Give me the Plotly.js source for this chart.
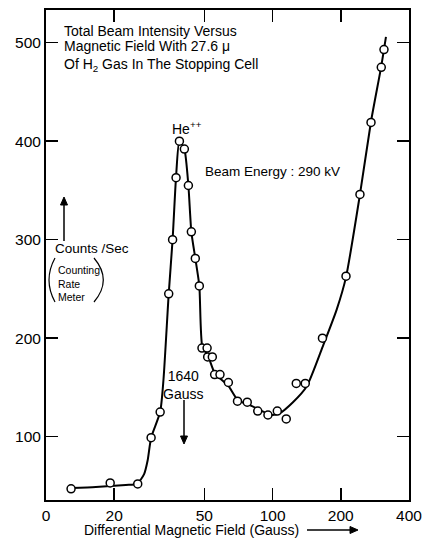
<!DOCTYPE html>
<html>
<head>
<meta charset="utf-8">
<script src="https://cdn.plot.ly/plotly-3.0.1.min.js"></script>
<style>html,body{margin:0;padding:0;background:#fff;}#chart{width:425px;height:539px;}</style>
</head>
<body>
<div id="chart"></div>
<script>
// Measured points (differential magnetic field in gauss, counts/sec)
const fieldGauss = [12.9, 19.2, 25.4, 29.1, 31.9, 34.8, 36.2, 37.5, 38.8, 40.8, 42.5, 43.8, 45.6, 47.5, 48.8, 51.4, 51.7, 54.2, 55.5, 58.6, 63.8, 70.0, 77.3, 86.0, 95.4, 104.9, 114.9, 127.2, 139.4, 166, 210.9, 243.0, 271.9, 301.8, 310.2];
const counts     = [47, 53, 52, 99, 125, 245, 300, 363, 400, 392, 355, 308, 281, 253, 190, 190, 181, 181, 163, 163, 155, 136, 135, 126, 122, 126, 118, 154, 154, 200, 263, 346, 419, 475, 493];

// Hand-drawn fitted curve
const curveField  = [12.9, 16.6, 22.5, 25.2, 27.1, 28.1, 29.1, 31.9, 33.0, 34.8, 36.2, 37.5, 38.8, 40.8, 42.5, 43.8, 45.6, 47.5, 49.0, 51.9, 55.7, 63.6, 70.3, 79.5, 89.8, 99.4, 107.8, 123.0, 141.4, 167.4, 191.8, 210.9, 243.0, 271.9, 301.1, 316.5];
const curveCounts = [48, 49, 51, 52, 62, 76, 99, 125, 158, 245, 300, 364, 400, 392, 355, 308, 281, 253, 191, 182, 164, 152, 137, 132, 126, 122, 124, 135, 151, 193, 229, 262, 346, 420, 475, 506];

// Axis ticks
const xTickVals = [10, 20, 50, 100, 200, 400];
const xTickText = ["0", "20", "50", "100", "200", "400"];
const yTickVals = [100, 200, 300, 400, 500];
const yTickText = ["100", "200", "300", "400", "500"];

// Title lines (drawn inside the frame, top left)
const titleLines = ["Total Beam Intensity Versus", "Magnetic Field With 27.6 μ", "Of H<sub>2</sub> Gas In The Stopping Cell"];

const FONT = "Liberation Sans, Arial, sans-serif";
const L = 46, R = 409, T = 10, B = 500;
const px = v => (v - L) / (R - L);
const py = v => (B - v) / (B - T);

const traces = [
  {
    x: curveField, y: curveCounts, type: "scatter", mode: "lines",
    line: {color: "#000", width: 2, shape: "spline", smoothing: 0.6},
    hoverinfo: "skip", showlegend: false
  },
  {
    x: fieldGauss, y: counts, type: "scatter", mode: "markers",
    marker: {symbol: "circle", size: 8, color: "#fff", line: {color: "#000", width: 1.5}},
    showlegend: false
  }
];

const ann = (text, x, y, opts) => Object.assign({
  text, x: px(x), y: py(y), xref: "paper", yref: "paper",
  showarrow: false, xanchor: "left", yanchor: "middle", align: "left",
  font: {family: FONT, size: 13.5, color: "#000"}
}, opts || {});

// arrow = shaft line + filled head, in pixel positions of the page
function arrowShapes(x0, y0, x1, y1) {
  const dx = x1 - x0, dy = y1 - y0, len = Math.hypot(dx, dy);
  const ux = dx / len, uy = dy / len, hl = 8, hw = 3.5;
  const bx = x1 - ux * hl, by = y1 - uy * hl;
  const lx = bx - uy * hw, ly = by + ux * hw, rx = bx + uy * hw, ry = by - ux * hw;
  return [
    {type: "line", xref: "paper", yref: "paper", x0: px(x0), y0: py(y0), x1: px(bx), y1: py(by),
     line: {color: "#000", width: 1.5}},
    {type: "path", xref: "paper", yref: "paper",
     path: `M ${px(x1)} ${py(y1)} L ${px(lx)} ${py(ly)} L ${px(rx)} ${py(ry)} Z`,
     fillcolor: "#000", line: {color: "#000", width: 1}}
  ];
}

const titleFont = {family: FONT, size: 14, color: "#000"};

const layout = {
  width: 425, height: 539,
  margin: {l: L, r: 425 - R, t: T, b: 539 - B, pad: 0},
  paper_bgcolor: "#fff", plot_bgcolor: "#fff",
  showlegend: false,
  font: {family: FONT, color: "#000"},
  xaxis: {
    type: "log", range: [1, Math.log10(400)],
    tickvals: xTickVals, ticktext: xTickText,
    ticks: "inside", ticklen: 12, tickwidth: 1.5, tickcolor: "#000",
    showline: true, linecolor: "#000", linewidth: 2, mirror: "ticks",
    showgrid: false, zeroline: false,
    tickfont: {family: FONT, size: 15.5, color: "#000"}
  },
  yaxis: {
    range: [35.7, 533.2],
    tickvals: yTickVals, ticktext: yTickText,
    ticks: "inside", ticklen: 12, tickwidth: 1.5, tickcolor: "#000",
    showline: true, linecolor: "#000", linewidth: 2, mirror: "ticks",
    showgrid: false, zeroline: false,
    tickfont: {family: FONT, size: 15.5, color: "#000"}
  },
  annotations: [
    ann(titleLines[0], 62, 31, {font: titleFont}),
    ann(titleLines[1], 62, 46, {font: titleFont}),
    ann(titleLines[2], 62, 65, {font: titleFont}),
    ann("He<sup>++</sup>", 170, 128, {font: {family: FONT, size: 14, color: "#000"}}),
    ann("Beam Energy : 290 kV", 203, 171),
    ann("1640<br>Gauss", 183, 385, {xanchor: "center", align: "center", font: {family: FONT, size: 14, color: "#000"}}),
    ann("Counts /Sec", 53, 249, {font: {family: FONT, size: 13.5, color: "#000"}}),
    ann("Counting<br>Rate<br>Meter", 55.5, 283.5, {font: {family: FONT, size: 10.5, color: "#000"}}),
    ann("Differential Magnetic Field (Gauss)", 191.5, 530, {xanchor: "center", font: {family: FONT, size: 14, color: "#000"}})
  ],
  shapes: [
    {type: "path", xref: "paper", yref: "paper",
     path: `M ${px(55)} ${py(258)} Q ${px(43)} ${py(280)} ${px(55)} ${py(302)}`,
     line: {color: "#000", width: 1.2}},
    {type: "path", xref: "paper", yref: "paper",
     path: `M ${px(94)} ${py(258)} Q ${px(112.6)} ${py(280)} ${px(94)} ${py(302)}`,
     line: {color: "#000", width: 1.2}},
    ...arrowShapes(64, 241, 64, 197),
    ...arrowShapes(184, 400, 184, 444),
    ...arrowShapes(307, 530, 358, 530)
  ]
};

Plotly.newPlot("chart", traces, layout, {displayModeBar: false, staticPlot: true});
</script>
</body>
</html>
